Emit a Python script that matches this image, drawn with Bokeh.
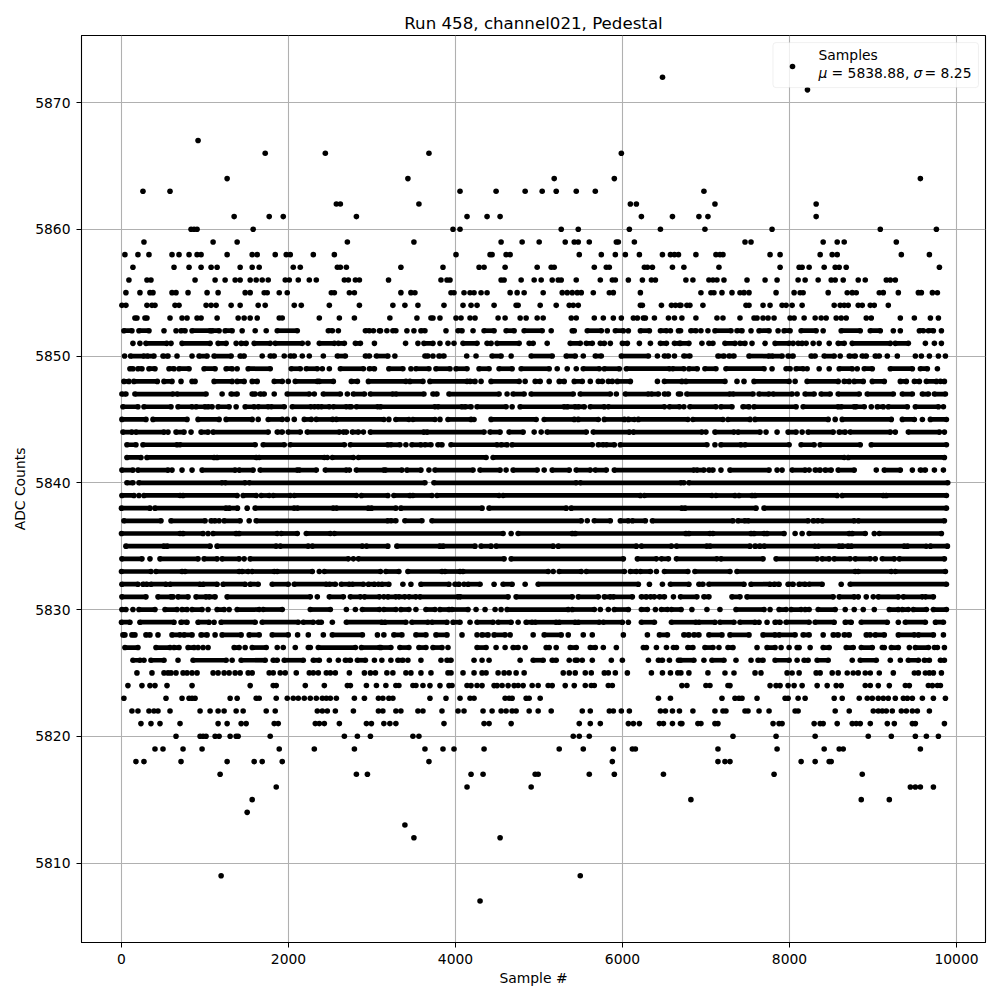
from bokeh.plotting import figure
from bokeh.models import FixedTicker, Legend, LegendItem, Label, Range1d, BoxAnnotation
from bokeh.embed import file_html
from bokeh.resources import INLINE

TITLE = "Run 458, channel021, Pedestal"
XLABEL = "Sample #"
YLABEL = "ADC Counts"
LEGEND_NAME = "Samples"
X_TICKS = [0, 2000, 4000, 6000, 8000, 10000]
Y_TICKS = [5810, 5820, 5830, 5840, 5850, 5860, 5870]

# Each row: one ADC level. An int is a single sample; a tuple is a stretch of samples
# so closely packed that the dots read as one unbroken run.
adc_5872 = [6479]
adc_5871 = [8215]
adc_5867 = [917]
adc_5866 = [1721, 2441, 3682, 5986]
adc_5864 = [1265, 3430, 5182, 5902, 9567]
adc_5863 = [257, 581, 4054, 4486, 4834, 5038, 5206, 5446, 5674, 6975]
adc_5862 = [2573, 2621, 3562, 6094, 6166, 7107, 8319]
adc_5861 = [1349, 1769, 1937, 2813, 4138, 4378, 4534, 6226, 6598, 6915, 7023, 8319]
adc_5860 = [833, 869, 905, 1577, 3970, 4054, 5266, 5470, 6082, 6454, 6987, 7791, 9087, 9759]
adc_5859 = [269, 1097, 1385, 2705, 3502, 4546, 4798, 5002, 5314, 5422, 5470, 5602, 5926, 5950, 6142,
            7467, 7539, 8403, 8571, 8655, 9279]
adc_5858 = [41, 197, 329, 605, 689, 809, 905, 953, 1265, 1565, 1625, 1841, 1973, 2021, 2297, 2549,
            4006, 4414, 4438, 4606, 4654, 5482, 5746, 5914, 6034, 6202, 6478, 6574, 6622, 6670,
            6879, 7119, 7167, 7203, 7767, 7887, 8367, 8511, 8571, 9339, 9675]
adc_5857 = [137, 629, 809, 953, 1073, 1145, 1421, 1565, 1649, 2057, 2141, 2585, 2621, 2693,
            3346, 3850, 4282, 4342, 4594, 4978, 5146, 5182, 5662, 5806, 5842, 6262, 6298, 6358, 6598,
            6735, 7155, 7887, 8115, 8151, 8235, 8415, 8547, 8595, 8679, 9795]
adc_5856 = [89, 305, 353, 881, 1121, 1241, 1361, 1421, 1541, 1613, 1685, 1757, 1961, 2009, 2117, 2249, 2333,
            2669, 2717, 2801, 2849, 3198, 3826, 3898, 3934, 4546, 4582, 4786, 4942, 5026, 5158, 5230, 5266,
            5446, 5734, 5878, 5914, 6070, 6238, 6346, 6394, 6759, 6843, 7035, 7083, 7131, 7215, 7491, 7707,
            7851, 8103, 8187, 8343, 8499, 8547, 8643, 8823, 8907, 9159, 9207, 9267]
adc_5855 = [53, 221, 341, 377, 605, 653, 797, 1025, 1157, 1481, 1541, 1709, 1745, 1889, 1985, 2513, 2549, 2729,
            2789, 3346, 3466, 3514, 3946, 3982, 4102, 4174, 4222, 4306, 4378, 4654, 4738, 4822, 5050, 5278,
            5338, 5398, 5458, 5506, 5650, 5842, 5890, 6214, 6939, 7059, 7095, 7191, 7311, 7407, 7455, 7515,
            7839, 8055, 8127, 8163, 8463, 8691, 8751, 8799, 9075, 9123, 9303, 9543, 9579, 9711, 9771]
adc_5854 = [5, 53, 305, 365, 401, 641, 689, 1013, 1073, 1133, 1313, 1421, 1637, 1721, 2069, 2153, 2489, 2849,
            3250, 3394, 3550, 3862, 4090, 4186, 4258, 4462, 4726, 4750, 5014, 5206, 5362, 5410, 5470, 6214,
            6238, 6466, 6586, 6634, 6682, 6699, 6771, 6807, 6963, 7479, 7515, 7683, 7767, 7911, 7959, 8031,
            8151, 8535, 8607, 8655, 8703, 8823, 8871, 8967, 9015, 9183]
adc_5853 = [161, 185, 281, 305, 581, 725, 785, 905, 953, 1145, 1397, 1469, 1541, 1625, 1889, 1925, 2369, 2609,
            2789, 3214, 3538, 3706, 3730, 3814, 4006, 4066, 4174, 4234, 4510, 4594, 4774, 4846, 4978, 5050,
            5386, 5446, 5662, 5770, 5890, 5986, 6130, 6178, 6250, 6274, 6382, 6550, 6622, 6711, 6879, 7131,
            7203, 7407, 7575, 7611, 7683, 7743, 7815, 8007, 8055, 8175, 8307, 8379, 8439, 8559, 8619, 8679,
            8919, 8979, 9327, 9495, 9687, 9783]
adc_5852 = [(29, 125), (209, 329), 509, 653, (713, 761), (845, 1061), (1085, 1169), (1241, 1325), 1445, 1601, 1733,
            (1865, 2105), (2477, 2525), 2597, (2921, 2969), 3017, 3089, 3102, 3178, (3250, 3286), 3418, 3502,
            (3586, 3634), 3886, (4030, 4078), 4210, (4342, 4462), (4606, 4702), (4822, 5038), 5146, (5398, 5422),
            (5578, 5746), 5818, (5914, 6010), 6070, (6214, 6322), (6454, 6526), 6574, 6670, 6695, (6819, 6879),
            6939, 7023, (7107, 7299), (7371, 7431), 7539, (7635, 7755), 7863, (7935, 8007), (8139, 8319), 8403,
            (8619, 8847), (8967, 9087), 9243, 9327, (9555, 9603), (9663, 9723), 9819]
adc_5851 = [137, 221, (293, 541), 593, (725, 1061), (1157, 1253), 1373, (1433, 1493), (1589, 1781), (1841, 2165), 2233,
            (2369, 2549), (2597, 2669), (2801, 2861), 3029, 3402, 3550, (3622, 3730), 3814, 3910, 3982, (4090, 4258),
            (4378, 4426), (4498, 4762), (4882, 4930), 5098, (5374, 5494), (5566, 5638), (5734, 5782), 5854, (5998, 6058),
            6202, 6334, (6454, 6526), (6622, 6682), (6695, 6795), 6951, (7035, 7083), (7227, 7347), (7407, 7467), 7551,
            7707, (7827, 7995), 8043, (8103, 8151), 8199, 8283, 8355, 8475, (8583, 8655), (8751, 9207), (9267, 9423),
            9627, 9735, 9819]
adc_5850 = [37, (109, 269), (309, 389), (497, 557), 665, 845, (929, 1025), (1109, 1313), (1421, 1469), 1685, (1781, 1829),
            1949, (2021, 2069), 2165, 2249, 2417, (2585, 2681), (2921, 2969), (3053, 3190), 3274, (3634, 3670), 3730,
            (3802, 3862), 4134, 4246, (4438, 4546), 4666, (4906, 5158), (5326, 5434), 5530, (5674, 5746), (5986, 6310),
            6418, (6502, 6550), 6622, (6735, 6807), (7143, 7215), (7275, 7335), (7515, 7755), (7791, 7911), (7983, 8043),
            (8259, 8307), (8415, 8535), 8607, (8715, 8787), (8871, 8919), (9027, 9075), 9171, 9291, 9507, 9579, 9675,
            9783, 9867]
adc_5849 = [(101, 137), (197, 245), (329, 401), (569, 629), (689, 809), (989, 1121), (1253, 1325), 1385, (1517, 1781),
            (2033, 2141), (2213, 2345), 2405, 2489, (2621, 2897), (2969, 3029), (3202, 3370), 3466, (3526, 3682), (3766, 3934),
            (4006, 4138), (4282, 4402), (4522, 4678), (4786, 5122), 5218, 5338, 5446, (5530, 5722), (5782, 5962), (6046, 6562),
            (6602, 6735), (6795, 6895), (6987, 7119), (7239, 7695), 7791, (7959, 8007), (8079, 8163), 8211, 8355, 8475,
            (8595, 8751), 8811, (8895, 8991), (9207, 9471), (9567, 9651), 9771]
adc_5848 = [(29, 89), (149, 429), (509, 605), 713, (845, 881), (1109, 1325), (1385, 1469), (1565, 1625), (1829, 1925), 1997,
            (2081, 2345), (2369, 2537), (2753, 2825), (2957, 3406), (3454, 3610), (3694, 4138), (4174, 4234), 4306, (4426, 4762),
            4834, (4954, 5014), 5122, (5242, 5302), (5422, 5518), 5614, (5710, 5758), (5830, 5878), (5938, 6094), 6418,
            (6502, 6711), (6759, 7227), 7371, 7455, (7575, 7995), 8067, (8211, 8583), (8655, 8715), (8775, 8883), (8991, 9135),
            (9327, 9399), (9495, 9555), (9639, 9759), (9807, 9855)]
adc_5847 = [(5, 53), (161, 617), (665, 1013), 1205, (1313, 1385), (1565, 1601), (1661, 1709), 1829, (1985, 2249), 2309,
            (2417, 2621), 2705, (2777, 2909), (2981, 3250), (3286, 3622), (3730, 3778), (3922, 4522), 4618, (4690, 4822),
            (4906, 5410), (5494, 5854), 5926, (6034, 6310), (6346, 6430), (6502, 6550), 6670, 6695, (6771, 7287), (7323, 7563),
            (7635, 7755), (7803, 8031), 8091, (8187, 8295), (8379, 8487), (8583, 8835), (8931, 9243), (9351, 9471), (9591, 9663),
            (9735, 9867)]
adc_5846 = [(17, 197), (269, 593), (677, 845), (893, 1001), (1037, 1085), (1157, 1289), 1373, (1481, 1589), (1637, 1757),
            (1793, 1949), (2045, 2269), (2309, 2357), (2393, 2489), (2537, 2693), (2729, 2753), (2813, 3069), (3102, 3754),
            (3790, 4078), (4114, 4186), (4258, 4606), 4678, (4774, 5302), (5338, 5434), (5470, 5542), (5614, 5782), (5830, 6502),
            (6562, 6682), 6735, (6807, 7119), (7179, 7311), (7443, 7515), (7575, 8079), (8163, 8583), (8619, 8775), (8799, 8895),
            8979, (9051, 9123), (9183, 9411), (9507, 9783), 9843]
adc_5845 = [(5, 293), (377, 785), (917, 1169), (1253, 1565), 1637, (1757, 1925), 1985, 2069, (2189, 2273), (2333, 2529),
            (2573, 3142), 3202, (3286, 3442), (3490, 3754), 3814, (3910, 4186), 4222, (4426, 4966), (5062, 5422), (5470, 5710),
            (5782, 6022), (6070, 6142), (6190, 6783), (6843, 7203), (7263, 7527), (7587, 8463), 8547, (8631, 9219), (9351, 9495),
            9591, (9687, 9879)]
adc_5844 = [(17, 125), (173, 509), 557, (653, 749), 833, (953, 1037), (1097, 1757), (1865, 1925), (1997, 2141), (2225, 2609),
            (2657, 2693), (2765, 2837), 2897, (2981, 3622), (3658, 4342), (4414, 4534), (4642, 4810), 4942, 5026, (5098, 5566),
            (5650, 6082), (6130, 6951), 6999, (7107, 7335), (7383, 7647), 7719, 7851, (7983, 8079), 8151, (8223, 8523),
            (8595, 8667), (8727, 9207), 9267, (9423, 9795), 9855]
adc_5843 = [(65, 173), (257, 665), (701, 1601), (1697, 1949), (2021, 2669), (2741, 3190), (3226, 3334), 3406, (3478, 3586),
            (3634, 3706), (3790, 3838), (3946, 4498), (4546, 4618), (4678, 5638), (5710, 5770), (5806, 5902), (5974, 7011), 7107,
            (7179, 7419), (7467, 7995), (8139, 8295), (8367, 8847), (8979, 9879)]
adc_5842 = [(65, 233), (305, 1109), (1145, 1613), (1649, 2429), 2465, (2525, 2777), (2837, 4366), (4450, 8655), (8703, 9855)]
adc_5841 = [(5, 137), (197, 557), 605, 725, 845, (965, 1361), (1409, 1577), (1661, 2105), (2129, 2333), (2441, 2693), 2729,
            (2813, 3142), (3162, 3358), (3418, 3586), 3682, (3754, 4210), (4294, 4534), 4606, (4690, 4978), 5062, (5158, 5362),
            (5446, 5614), (5674, 5806), (5902, 6855), (6891, 6975), (7035, 7083), 7179, (7287, 7755), 7851, 7911, (8031, 8187),
            8235, (8307, 8367), (8427, 8499), (8583, 8775), 9039, (9135, 9327), 9471, (9567, 9627), 9735, 9843]
adc_5840 = [(65, 137), (209, 1205), (1241, 1481), (1529, 3634), (3742, 5446), (5494, 6702), 6735, (6795, 9895)]
adc_5839 = [(5, 149), 209, (269, 701), (737, 1385), (1457, 1613), (1673, 1769), (1817, 2021), (2069, 2813), (2873, 3190),
            (3262, 3454), (3490, 3718), (3778, 4522), (4570, 6214), (6262, 7071), (7119, 7347), (7395, 7551), (7587, 8571),
            (8631, 9123), (9159, 9879)]
adc_5838 = [(0, 341), (401, 1253), (1289, 1389), 1505, (1601, 2069), (2105, 2537), (2573, 2957), (2993, 3286), (3346, 4318),
            (4402, 5326), (5386, 6711), (6747, 7599), (7695, 9879)]
adc_5837 = [(29, 473), (593, 1001), (1073, 1121), 1169, (1229, 1421), 1529, (1613, 3190), (3226, 3286), (3394, 3598), (3718, 5506),
            5578, (5662, 5854), (5974, 6070), (6118, 6274), (6358, 7323), (7383, 7467), (7503, 8223), (8283, 8343), (8391, 8775),
            (8823, 9855)]
adc_5836 = [(0, 701), (737, 977), 1037, (1097, 1373), (1409, 1865), (1913, 2105), (2213, 2501), (2549, 4570), 4666, (4750, 5398),
            (5434, 6759), (6795, 7047), (7083, 7539), (7575, 7695), (7731, 7935), 8067, 8151, (8235, 8715), (8751, 8907), 9015,
            (9075, 9819)]
adc_5835 = [(53, 509), (545, 1061), (1145, 1853), (1901, 2237), (2285, 2885), (2933, 3190), (3298, 3814), (3850, 4234), (4306, 4426),
            (4486, 5170), (5230, 6166), (6226, 6586), (6646, 7011), (7047, 7527), (7587, 7647), (7695, 8307), (8343, 8595),
            (8631, 8703), (8739, 9375), (9411, 9639), (9687, 9891)]
adc_5834 = [(5, 245), 341, (461, 917), (989, 1145), (1205, 1409), 1469, (1541, 2717), 2777, (2837, 4582), (4666, 6010), (6178, 6406),
            (6466, 6550), (6646, 7131), (7179, 7683), (7839, 8331), (8391, 8475), (8535, 8727), (8787, 8967), 9027, (9111, 9255),
            (9315, 9855)]
adc_5833 = [(0, 353), (413, 725), (761, 1409), (1445, 1517), (1565, 1829), (1865, 2285), 2369, (2429, 3102), (3166, 3322), (3430, 3838),
            (3874, 4054), (4090, 5110), 5170, (5242, 5506), (5566, 6022), (6094, 6166), (6214, 6334), 6406, (6502, 6783), (6867, 7287),
            (7371, 8787), (8823, 9219), (9267, 9867)]
adc_5832 = [(5, 197), (257, 305), (353, 533), (581, 941), (977, 1145), (1217, 1481), (1541, 1637), (1805, 1997), (2069, 2453), (2489, 2561),
            (2633, 2729), (2765, 2897), (2957, 3029), 3077, (3118, 3202), 3370, 3466, (3586, 3922), (3994, 4042), 4102, (4150, 4294), 4462,
            (4570, 4678), 4834, (4990, 6190), 6322, 6478, (6574, 6795), (6915, 6963), (7035, 7455), (7539, 7767), (7815, 7875),
            (7983, 8043), (8115, 8187), (8235, 8391), 8619, (8727, 9879)]
adc_5831 = [(5, 293), (437, 593), 617, (677, 797), (893, 1013), (1049, 1121), (1265, 2261), 2345, (2489, 2657), (2741, 2861), (2909, 3089),
            3142, (3190, 3286), (3322, 3394), (3442, 3526), (3574, 4030), (4054, 4630), (4726, 5398), (5470, 5710), (5782, 5854),
            (5890, 6118), (6226, 6286), (6334, 6382), (6442, 6502), 6610, (6695, 6891), (6975, 7035), (7311, 7407), (7491, 8523),
            (8595, 8775), 8823, 8919, 9003, (9063, 9303), (9363, 9591), (9627, 9723)]
adc_5830 = [(5, 53), 137, (209, 401), (521, 665), (725, 785), (845, 965), 1037, (1145, 1229), 1289, (1385, 1649), (1697, 1925), (2261, 2501),
            2693, 2801, (2885, 3089), (3142, 3286), (3346, 3442), 3526, (3646, 3754), (3814, 3922), (3958, 4150), 4246, 4354, 4474, 4546,
            (4618, 5350), (5398, 5662), 5734, 5830, (5902, 6070), (6226, 6298), 6394, (6466, 6538), (6586, 6702), 6831, 7011, 7167,
            (7359, 7695), 7767, (7875, 7959), (8019, 8139), (8187, 8235), (8343, 8547), 8667, 8775, 8883, 9015, (9195, 9303), (9351, 9423),
            (9483, 9639), (9723, 9879)]
adc_5829 = [(0, 101), (221, 629), (713, 785), (917, 1049), 1109, (1193, 1601), (1685, 2117), (2177, 2297), (2357, 2393), 2525, (2693, 3118),
            (3154, 3406), (3478, 3670), (3718, 3898), (3970, 4054), 4174, (4258, 4450), (4510, 4666), 4750, (4846, 4918), (4954, 5206),
            (5242, 5434), (5470, 5722), (5770, 5998), 6070, (6226, 6382), (6586, 6879), (6915, 7107), (7167, 7335), (7407, 7587), 7635,
            7731, (7827, 7887), (7959, 8235), (8307, 8535), (8667, 8739), (8859, 9171), 9303, (9387, 9627), (9747, 9843)]
adc_5828 = [(17, 41), (125, 161), (293, 341), 437, (605, 701), (749, 845), (953, 1025), 1121, (1205, 1433), (1529, 1649), (1805, 1997), 2109,
            2237, 2417, (2525, 2885), 3065, 3142, (3262, 3358), (3526, 3646), (3766, 3898), 4078, 4258, (4318, 4390), (4462, 4594), 4654,
            4930, (5062, 5266), 5350, 5530, 5638, 6010, 6298, (6442, 6538), (6735, 6795), (6855, 6915), (7035, 7191), (7287, 7515),
            (7683, 7827), (7875, 8067), (8163, 8235), 8403, (8523, 8583), (8655, 8715), (8919, 8967), (9027, 9135), (9303, 9495),
            (9543, 9723), 9843]
adc_5827 = [(41, 197), (413, 581), (629, 689), (797, 869), 917, 977, 1037, (1349, 1409), 1481, (1565, 1733), 1865, 1937, 2081, (2237, 2261),
            (2357, 2801), (2873, 3089), (3106, 3226), (3334, 3442), (3562, 3646), (3730, 3838), 3910, (4258, 4366), 4486, 4594, (4690, 4750),
            4834, (5086, 5122), 5206, (5374, 5446), (5614, 5674), 5770, 5926, (6250, 6286), 6406, 6526, (6610, 6646), (6783, 6843),
            (6987, 7083), 7155, (7263, 7323), 7611, (7731, 7827), 7899, 7995, (8091, 8115), 8247, (8403, 8475), (8679, 8763), (8859, 8991),
            (9111, 9135), (9219, 9303), 9435, (9507, 9663), (9735, 9771), 9855]
adc_5826 = [(137, 221), 269, (353, 509), 677, (857, 1253), 1325, (1433, 1721), (1817, 1865), (1949, 2177), (2297, 2369), 2489, 2597,
            (2681, 2741), (2825, 2921), 3029, 3118, 3226, (3310, 3370), 3430, 3586, 3826, (3898, 3946), 4222, 4318, 4402, 4774, (4930, 5050),
            (5158, 5206), 5362, (5434, 5458), 5518, 5638, 5866, 5998, 6310, (6430, 6478), 6562, 6670, (6695, 6855), 6975, (7071, 7215), 7359,
            7539, (7623, 7683), (7827, 7995), 8091, (8175, 8223), (8331, 8463), 8751, (8847, 9039), 9207, 9327, (9423, 9543), (9615, 9675),
            (9807, 9855)]
adc_5825 = [185, 365, 509, 557, 593, 653, 737, 785, 845, 905, 1097, 1157, 1229, 1289, 1361, 1421, 1517, 1565, 1769, 1817, 1901, 1961, 2093,
            2249, 2297, 2357, 2453, 2501, 2561, 2729, 2909, 2981, 3041, 3178, 3250, 3406, 3466, 3586, 3706, 3910, 3946, 4090, 4222, 4318, 4366,
            4510, 4582, 4642, 4726, 4822, 5290, 5362, 5434, 5554, 5626, 5782, 5830, 5914, 6058, 6346, 6478, 6574, 6662, 6699, 6795, 7023, 7227,
            7335, 7587, 7659, 7971, 8031, 8115, 8319, 8367, 8511, 8583, 8691, 8763, 8823, 8907, 8967, 9075, 9243, 9495, 9543, 9627, 9675, 9723,
            9819]
adc_5824 = [77, 245, 341, 401, 545, 845, 1541, 1817, 1853, 2201, 2429, 2705, 2741, 2933, 3053, 3166, 3286, 3322, 3490, 3526, 3610, 3694, 3814,
            3922, 3958, 4138, 4186, 4258, 4318, 4462, 4498, 4558, 4630, 4702, 4750, 4810, 4918, 4990, 5110, 5158, 5314, 5422, 5554, 5626, 5662,
            5830, 5878, 6711, 6771, 6999, 7047, 7263, 7287, 7767, 7839, 7887, 7983, 8055, 8151, 8331, 8451, 8559, 8619, 8907, 8967, 9063, 9195,
            9387, 9435, 9663, 9711, 9771, 9807]
adc_5823 = [29, 533, 725, 809, 845, 881, 1301, 1385, 1613, 1649, 1853, 1985, 2057, 2117, 2189, 2261, 2333, 2405, 2453, 2501, 2573, 2789, 2909,
            3077, 3130, 3202, 3250, 3694, 3886, 4054, 4174, 4222, 4594, 4642, 4678, 4846, 4882, 5014, 6430, 6574, 7191, 7347, 7395, 7431, 7611,
            7947, 7983, 8103, 8187, 8535, 8631, 8835, 8931, 8991, 9063, 9123, 9183, 9267, 9363, 9411, 9471, 9591, 9723, 9867]
adc_5822 = [125, 197, 329, 389, 437, 581, 941, 1061, 1157, 1229, 1373, 1457, 1733, 1841, 2345, 2405, 2465, 2561, 2777, 3077, 3130, 3286, 3346,
            3550, 3610, 3838, 4030, 4102, 4330, 4438, 4546, 4606, 4678, 4726, 4882, 4990, 5146, 5518, 5614, 5842, 5890, 5986, 6082, 6454, 6514,
            6598, 6682, 6843, 7107, 7203, 7239, 7467, 7503, 7635, 7755, 8067, 8103, 8547, 8715, 9003, 9063, 9111, 9159, 9231, 9339, 9399, 9471,
            9531, 9675]
adc_5821 = [233, 353, 461, 701, 1157, 1265, 1433, 1493, 1829, 1877, 2321, 2369, 2429, 2609, 2933, 2993, 3142, 3214, 3286, 3862, 4342, 4402, 4666,
            5482, 5614, 5734, 6070, 6130, 6202, 6442, 6490, 6598, 6694, 6711, 6903, 6939, 7107, 7143, 7803, 7875, 7911, 8295, 8367, 8403, 8571,
            8751, 8799, 8847, 8967, 9171, 9255, 9471, 9507, 9855]
adc_5820 = [653, 941, 977, 1013, 1121, 1169, 1301, 1373, 1397, 1781, 2669, 2825, 2981, 3490, 3562, 5410, 5482, 5602, 7323, 7839, 8307, 8943, 9219,
            9507, 9639, 9783]
adc_5819 = [401, 497, 737, 965, 1889, 2309, 2789, 3634, 3850, 3982, 4342, 5242, 5530, 5890, 6118, 6154, 7143, 7851, 8415, 8595, 8643, 9567]
adc_5818 = [173, 269, 713, 1265, 1589, 1685, 1925, 3682, 5878, 7143, 7227, 7287, 8139, 8307, 8475, 8499]
adc_5817 = [1181, 2813, 2945, 4186, 4330, 4954, 4990, 5602, 5902, 6490, 7815, 8871]
adc_5816 = [1853, 4138, 4906, 9447, 9507, 9567, 9723]
adc_5815 = [1565, 6819, 8859, 9195]
adc_5814 = [1505]
adc_5813 = [3394]
adc_5812 = [3502, 4534]
adc_5809 = [1193, 5494]
adc_5807 = [4294]

dot_x, dot_y, x0, x1, seg_y = [], [], [], [], []
for name, row in list(globals().items()):
    if not name.startswith("adc_"):
        continue
    level = int(name[4:])
    for item in row:
        if isinstance(item, tuple):
            x0.append(item[0]); x1.append(item[1]); seg_y.append(level)
            dot_x.extend(item); dot_y.extend([level, level])
        else:
            dot_x.append(item); dot_y.append(level)

FONT = "DejaVu Sans"
p = figure(width=1000, height=1000, output_backend="svg", toolbar_location=None,
           x_range=Range1d(-479, 10347), y_range=Range1d(5803.73, 5875.29),
           min_border_left=81, min_border_right=15, min_border_top=35, min_border_bottom=58,
           title=TITLE)
p.title.align = "center"
p.title.text_font = FONT
p.title.text_font_size = "16.67px"
p.title.text_font_style = "normal"
p.title.text_color = "black"
p.title.standoff = 6

p.xaxis.axis_label = XLABEL
p.yaxis.axis_label = YLABEL
p.xaxis.ticker = FixedTicker(ticks=X_TICKS)
p.yaxis.ticker = FixedTicker(ticks=Y_TICKS)
p.xaxis.formatter.use_scientific = False
for ax in (p.xaxis[0], p.yaxis[0]):
    ax.axis_label_text_font = FONT
    ax.axis_label_text_font_size = "13.89px"
    ax.axis_label_text_font_style = "normal"
    ax.axis_label_text_color = "black"
    ax.major_label_text_font = FONT
    ax.major_label_text_font_size = "13.89px"
    ax.major_label_text_color = "black"
    ax.minor_tick_line_color = None
    ax.major_tick_in = 0
    ax.major_tick_out = 5
    ax.major_tick_line_color = "black"
    ax.axis_line_color = "black"
p.xaxis.major_label_standoff = 6
p.yaxis.major_label_standoff = 6
p.xaxis.axis_label_standoff = 3
p.yaxis.axis_label_standoff = 4
p.outline_line_color = "black"
p.outline_line_width = 1.1
p.grid.grid_line_color = "#b0b0b0"
p.grid.grid_line_width = 1.1

p.segment(x0=x0, y0=seg_y, x1=x1, y1=seg_y, line_color="black", line_width=4.7)
dots = p.scatter(x=dot_x, y=dot_y, size=5.6, color="black", line_width=0)

p.add_layout(BoxAnnotation(left=7802, right=10263, top=5874.73, bottom=5871.18,
                           fill_color="white", fill_alpha=0.8, line_color="#cccccc", line_width=1,
                           border_radius=3, level="annotation", editable=False))

# The legend contributes only its marker; its frame is the box above.
legend = Legend(items=[LegendItem(label=" ", renderers=[dots])], location=(704, 866),
                margin=0, padding=0, spacing=0, glyph_width=14, glyph_height=14,
                label_width=167, label_height=21, label_standoff=0,
                background_fill_alpha=0, border_line_color=None)
p.add_layout(legend)

def text(x, y, s, style="normal"):
    p.add_layout(Label(x=x, y=y, text=s, text_font=FONT, text_font_size="13.89px", text_font_style=style,
                       text_baseline="middle", text_color="black", level="overlay"))

text(8347, 5873.79, LEGEND_NAME)
text(8347, 5872.37, "μ", "italic")
text(8503, 5872.37, "= 5838.88,")
text(9485, 5872.37, "σ", "italic")
text(9617, 5872.37, "= 8.25")

open("out.html", "w").write(file_html(p, INLINE))
